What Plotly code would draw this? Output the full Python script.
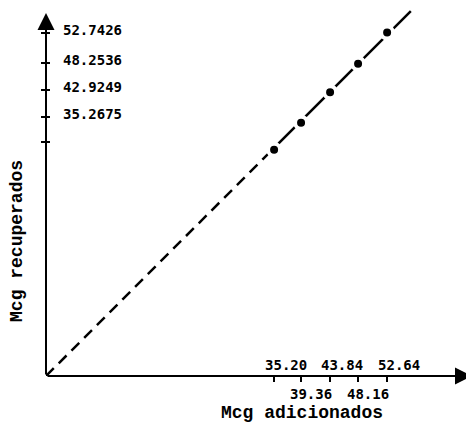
import plotly.graph_objects as go

# ---- data ----
added = [35.20, 39.36, 43.84, 48.16, 52.64]              # Mcg adicionados
recovered_plotted = [34.9, 39.1, 43.8, 48.2, 53.0]       # plotted positions of the points
x_tick_vals_low = [39.36, 48.16]
x_tick_text_low = ["39.36", "48.16"]
x_tick_vals_high = [35.20, 43.84, 52.64]
x_tick_text_high = ["35.20", "43.84", "52.64"]
y_tick_vals = [52.9, 48.3, 44.1, 40.0, 36.1]
y_tick_text = ["52.7426", "48.2536", "42.9249", "35.2675", ""]
ref_line_lower = [0.0, 35.2]      # dashed part of ideal y = x line
ref_line_upper = [35.2, 56.3]     # solid part
x_range = [0, 65.74]
y_range = [0, 56.48]
y_arrow_tip = 56.0

mono = "DejaVu Sans Mono"
title_font = dict(family="Liberation Mono", size=18, color="black", weight="bold")
tick_font = dict(family=mono, size=14, color="black", weight="bold")

low_text = [x_tick_text_low[x_tick_vals_low.index(v)] if v in x_tick_vals_low else "" for v in added]

fig = go.Figure()
fig.add_trace(go.Scatter(x=ref_line_lower, y=ref_line_lower, mode="lines",
                         line=dict(color="black", width=2.5, dash="11px,7px"),
                         hoverinfo="skip", showlegend=False))
fig.add_trace(go.Scatter(x=ref_line_upper, y=ref_line_upper, mode="lines",
                         line=dict(color="black", width=2.5),
                         hoverinfo="skip", showlegend=False))
fig.add_trace(go.Scatter(x=added, y=recovered_plotted, mode="markers",
                         marker=dict(color="black", size=12, line=dict(color="white", width=4)),
                         showlegend=False))
# dummy traces so the overlay axes are drawn
fig.add_trace(go.Scatter(x=[None], y=[None], xaxis="x2", yaxis="y", showlegend=False, hoverinfo="skip"))
fig.add_trace(go.Scatter(x=[None], y=[None], xaxis="x", yaxis="y2", showlegend=False, hoverinfo="skip"))

# page body has an 8px default margin, so the figure is sized to fit inside the window
fig.update_layout(
    width=466, height=414, autosize=False,
    margin=dict(l=38, r=2, t=2, b=46, autoexpand=False),
    paper_bgcolor="white", plot_bgcolor="white",
    showlegend=False,
    xaxis=dict(range=x_range, showgrid=False, zeroline=False, showline=False, automargin=False,
               tickmode="array", tickvals=added, ticktext=low_text,
               ticks="outside", ticklen=5, tickwidth=2, tickcolor="black",
               tickfont=tick_font, ticklabelshift=10, ticklabelstandoff=0),
    xaxis2=dict(range=x_range, overlaying="x", anchor="y", side="bottom", automargin=False,
                showgrid=False, zeroline=False, showline=False,
                tickmode="array", tickvals=x_tick_vals_high, ticktext=x_tick_text_high,
                ticks="", ticklabelposition="inside", tickfont=tick_font,
                ticklabelshift=12, ticklabelstandoff=0),
    yaxis=dict(range=y_range, showgrid=False, zeroline=False, showline=False, automargin=False,
               tickmode="array", tickvals=y_tick_vals, ticktext=y_tick_text,
               ticks="outside", ticklen=4, tickwidth=2, tickcolor="black",
               ticklabelposition="inside", tickfont=tick_font,
               ticklabelstandoff=14, ticklabelshift=-3),
    yaxis2=dict(range=y_range, overlaying="y", anchor="x", side="left", automargin=False,
                showgrid=False, zeroline=False, showline=False,
                tickmode="array", tickvals=y_tick_vals, ticktext=[""] * len(y_tick_vals),
                ticks="inside", ticklen=4, tickwidth=2, tickcolor="black"),
)

# axes with arrowheads
fig.add_annotation(x=0, y=y_arrow_tip, ax=0, ay=0, xref="x", yref="y", axref="x", ayref="y",
                   text="", showarrow=True, arrowhead=2, arrowsize=1.7, arrowwidth=2,
                   arrowcolor="black", standoff=0, startstandoff=0)
fig.add_annotation(x=x_range[1], y=0, ax=0, ay=0, xref="x", yref="y", axref="x", ayref="y",
                   text="", showarrow=True, arrowhead=2, arrowsize=1.7, arrowwidth=2,
                   arrowcolor="black", standoff=0, startstandoff=0)

# axis titles (positions in paper units of the plot area)
fig.add_annotation(text="Mcg adicionados", xref="paper", yref="paper", x=0.601, y=-0.101,
                   xanchor="center", yanchor="middle", showarrow=False, font=title_font)
fig.add_annotation(text="Mcg recuperados", xref="paper", yref="paper", x=-0.068, y=0.369,
                   xanchor="center", yanchor="middle", textangle=-90, showarrow=False, font=title_font)

fig.write_html("out.html")
